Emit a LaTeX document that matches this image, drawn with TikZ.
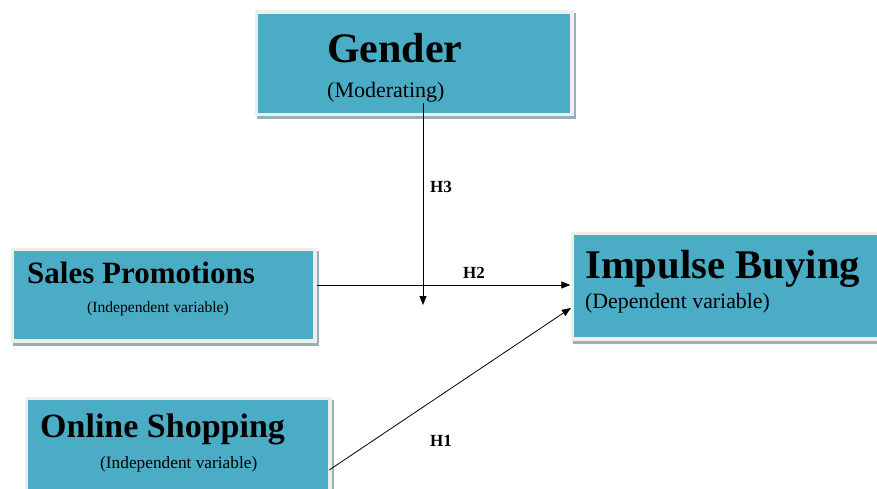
\documentclass[tikz,border=0pt]{standalone}
\usepackage{fontspec}
\setmainfont{Liberation Serif}
\usetikzlibrary{arrows.meta}
\definecolor{teal}{RGB}{75,172,198}
\definecolor{framecol}{RGB}{238,238,238}
\definecolor{shadowcol}{RGB}{150,176,186}
\tikzset{
  varbox/.style={rectangle, inner sep=0pt, fill=teal,
    preaction={draw=shadowcol, line width=7pt, transform canvas={xshift=2pt,yshift=-3pt}},
    preaction={draw=framecol, line width=7pt}},
  txt/.style={anchor=base west, inner sep=0pt, text=black},
  arr/.style={draw=black, line width=0.8pt, -{Triangle[length=9pt,width=7pt]}},
  hlab/.style={anchor=base west, inner sep=0pt, font=\fontsize{17}{17}\selectfont\bfseries}
}
\begin{document}
\begin{tikzpicture}[x=1pt,y=-1pt]
\useasboundingbox (0,0) rectangle (877,489);
\clip (0,0) rectangle (877,489);
\fill[white] (0,0) rectangle (877,489);
% boxes
\node[varbox, minimum width=312pt, minimum height=99pt] (g) at (414,63.5) {};
\node[varbox, minimum width=299pt, minimum height=88pt] (sp) at (163.5,295) {};
\node[varbox, minimum width=300pt, minimum height=100pt] (os) at (178,450) {};
\node[varbox, minimum width=316pt, minimum height=102pt] (ib) at (732,286) {};
% texts
\node[txt, font=\fontsize{42}{42}\selectfont\bfseries] (gt) at (327,63) {Gender};
\node[txt, font=\fontsize{22}{22}\selectfont] (gs) at (327,98) {(Moderating)};
\node[txt, font=\fontsize{31}{31}\selectfont\bfseries] (spt) at (27,283) {Sales Promotions};
\node[txt, font=\fontsize{15.6}{15.6}\selectfont] (sps) at (87,312) {(Independent variable)};
\node[txt, font=\fontsize{34}{34}\selectfont\bfseries] (ost) at (40,437) {Online Shopping};
\node[txt, font=\fontsize{17.3}{17.3}\selectfont] (oss) at (100,468) {(Independent variable)};
\node[txt, font=\fontsize{40.7}{40.7}\selectfont\bfseries] (ibt) at (585,278) {Impulse Buying};
\node[txt, font=\fontsize{21.8}{21.8}\selectfont] (ibs) at (585,308) {(Dependent variable)};
% connectors
\coordinate (h3s) at (423,103);
\coordinate (h3e) at (423,305);
\draw[arr] (h3s) -- (h3e);
\draw[arr, shorten >=3.5pt] ([xshift=3.5pt]sp.east |- 0,285) -- (ib.west |- 0,285);
\draw[arr, shorten >=3.5pt] ([xshift=1pt]os.east |- 0,470) -- (ib.west |- 0,306);
% labels
\node[hlab] (l3) at (430,193) {H3};
\node[hlab] (l2) at (463,278) {H2};
\node[hlab] (l1) at (430,446) {H1};
\end{tikzpicture}
\end{document}
